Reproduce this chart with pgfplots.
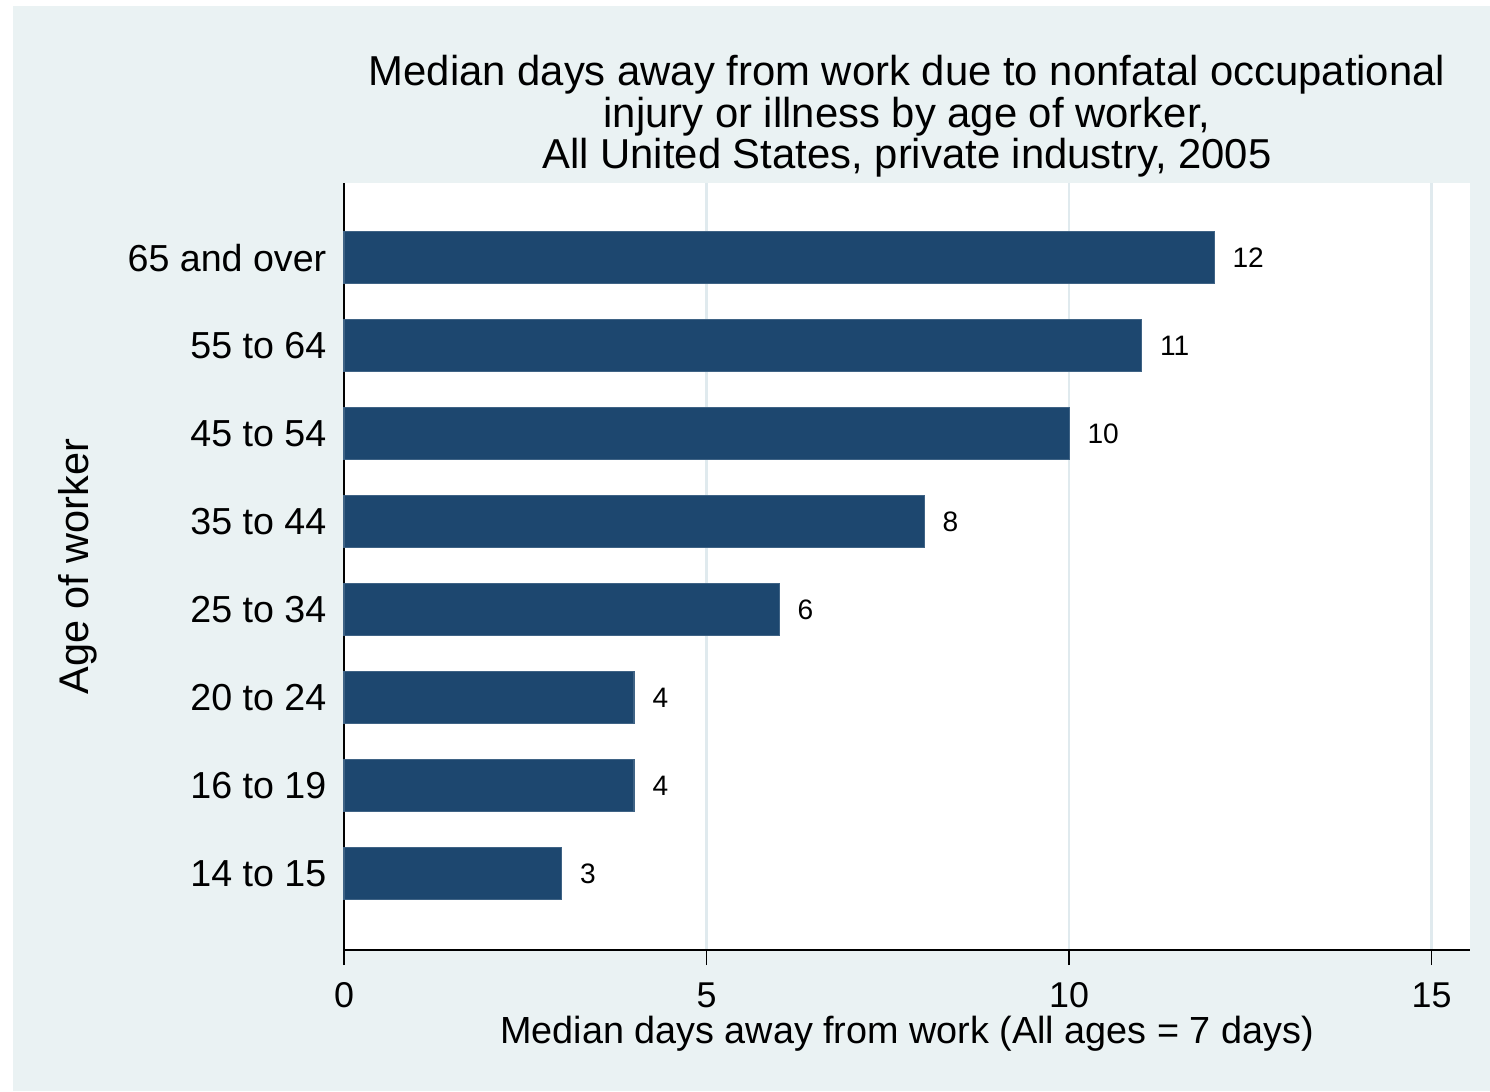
\documentclass[border=0pt]{standalone}
\usepackage{fontspec}
\setmainfont{Liberation Sans}
\usepackage{pgfplots}
\pgfplotsset{compat=1.18}

\definecolor{stbg}{RGB}{234,242,243}
\definecolor{stnavy}{RGB}{29,71,111}
\definecolor{stgrid}{RGB}{224,234,238}

\begin{document}
\begin{tikzpicture}
% page and Stata-style background
\path[use as bounding box, fill=white] (0,0) rectangle (149mm,109.1mm);
\fill[stbg] (1.3mm,0) rectangle (149mm,108.5mm);

\begin{axis}[
    at={(34.4mm,14.1mm)}, anchor=south west,
    scale only axis,
    width=112.6mm, height=76.7mm,
    xbar, bar width=5.2mm,
    xmin=0, xmax=15.53,
    ymin=0.136, ymax=8.852,
    axis x line*=bottom, axis y line*=left,
    axis line style={black, line width=0.55pt},
    axis background/.style={fill=white},
    /pgf/number format/assume math mode=true,
    xtick={0,5,10,15},
    tick align=outside,
    major tick length=1.5mm,
    xtick style={black, line width=0.5pt},
    ytick={1,...,8},
    yticklabels={14 to 15,16 to 19,20 to 24,25 to 34,35 to 44,45 to 54,55 to 64,65 and over},
    ytick style={draw=none},
    xmajorgrids,
    grid style={stgrid, line width=0.8pt},
    xticklabel style={font=\fontsize{10.2}{12}\selectfont, anchor=base, yshift=-4.2mm},
    yticklabel style={font=\fontsize{10.7}{12}\selectfont, anchor=east, inner sep=0pt, xshift=-0.2mm},
    xlabel={Median days away from work (All ages = 7 days)},
    xlabel style={font=\fontsize{10.75}{13}\selectfont, at={(rel axis cs:0.5,-0.1213)}, anchor=base, inner sep=0pt},
    ylabel={Age of worker},
    ylabel style={font=\fontsize{11.8}{14}\selectfont, at={(rel axis cs:-0.2265,0.5)}, anchor=base, inner sep=0pt},
    title={Median days away from work due to nonfatal occupational\\injury or illness by age of worker,\\All United States, private industry, 2005},
    title style={font=\fontsize{11.9}{11.8}\selectfont, align=center, at={(rel axis cs:0.5,1)}, anchor=base, inner sep=0pt, yshift=-0.7mm},
    nodes near coords,
    nodes near coords style={font=\fontsize{8}{10}\selectfont, anchor=west, inner sep=0pt, xshift=1.8mm, black},
    clip=false,
]
\addplot[fill=stnavy, draw=stnavy!85!white, line width=0.3pt]
    coordinates {(3,1) (4,2) (4,3) (6,4) (8,5) (10,6) (11,7) (12,8)};
\end{axis}
\end{tikzpicture}
\end{document}
